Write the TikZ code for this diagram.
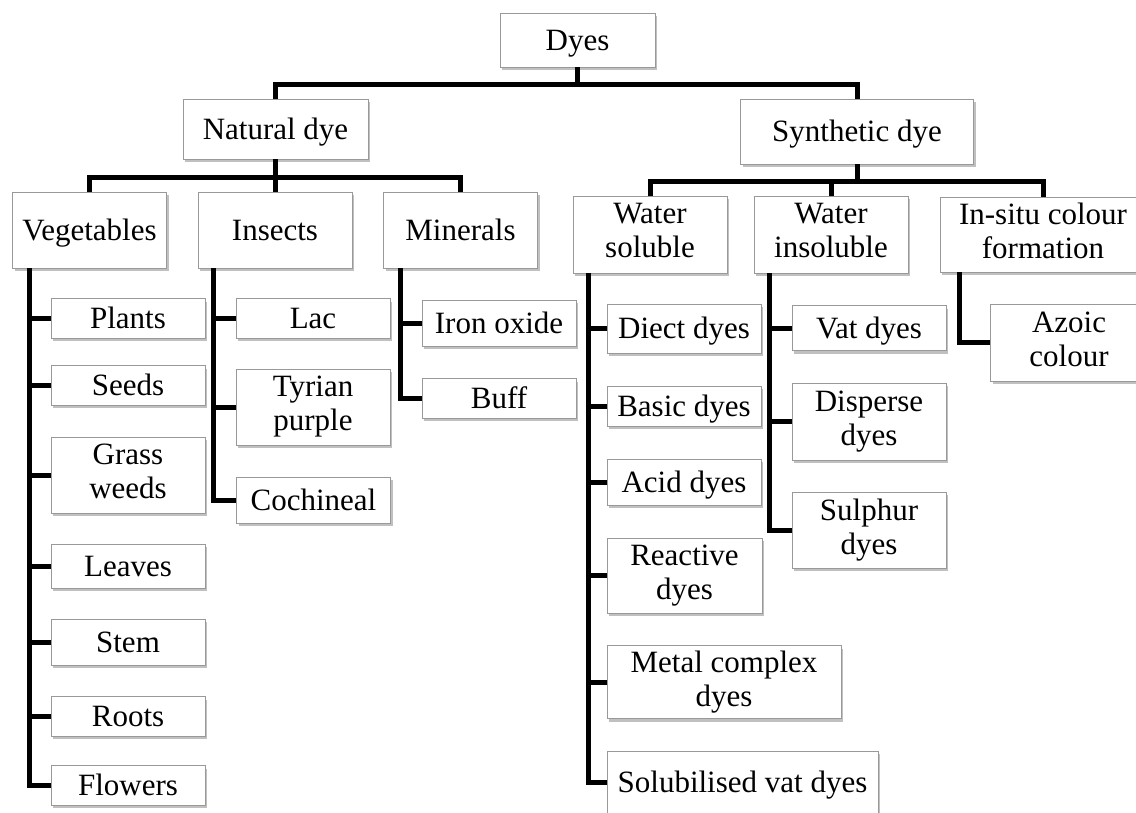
\documentclass[tikz,border=0pt]{standalone}
\usepackage{fontspec}
\setmainfont{Liberation Serif}
\usetikzlibrary{shadows}
\newcommand{\dyestrut}{\rule[-7.5pt]{0pt}{35.5pt}}

\begin{document}
\begin{tikzpicture}[x=1pt, y=-1pt,
    box/.style={draw=black!40, fill=white, line width=0.8pt, align=center,
        inner sep=2pt, font=\fontsize{31}{34}\selectfont, minimum width=154pt,
        execute at begin node=\dyestrut, execute at end node=\dyestrut,
        drop shadow={shadow xshift=2pt, shadow yshift=-3pt, fill=black!55, opacity=0.45}},
    link/.style={line width=5pt, line join=miter}]

    \useasboundingbox (0,0) rectangle (1136,812);

    \node[box, minimum width=155pt, minimum height=54pt] (dyes) at (577.5,40) {Dyes};
    \node[box, minimum width=185pt, minimum height=60pt] (natural) at (275.5,129) {Natural dye};
    \node[box, minimum width=233pt, minimum height=65pt] (synthetic) at (857,131.5) {Synthetic dye};

    \node[box, minimum height=76pt] (veg) at (89.5,230) {Vegetables};
    \node[box, minimum height=76pt] (insects) at (275,230) {Insects};
    \node[box, minimum height=76pt] (minerals) at (460.5,230) {Minerals};
    \node[box, minimum height=77pt] (wsol) at (650,234.5) {Water\\soluble};
    \node[box, minimum height=77pt] (winsol) at (831,234.5) {Water\\insoluble};
    \node[box, minimum width=206pt, minimum height=75pt] (insitu) at (1043,234.5) {In-situ colour\\formation};

    \node[box, minimum height=35pt] (plants) at (128,318.5) {Plants};
    \node[box, minimum height=35pt] (seeds) at (128,385.5) {Seeds};
    \node[box, minimum height=76pt] (grass) at (128,475) {Grass\\weeds};
    \node[box, minimum height=44pt] (leaves) at (128,566) {Leaves};
    \node[box, minimum height=46pt] (stem) at (128,642) {Stem};
    \node[box, minimum height=39pt] (roots) at (128,716.5) {Roots};
    \node[box, minimum height=33pt] (flowers) at (128,785.5) {Flowers};

    \node[box, minimum height=35pt] (lac) at (313,318.5) {Lac};
    \node[box, minimum height=76pt] (tyrian) at (313,407) {Tyrian\\purple};
    \node[box, minimum height=46pt] (cochineal) at (313.5,500) {Cochineal};

    \node[box, minimum height=46pt] (iron) at (499,323) {Iron oxide};
    \node[box, minimum height=39pt] (buff) at (499,398.5) {Buff};

    \node[box, minimum height=49pt] (direct) at (684,328.5) {Diect dyes};
    \node[box, minimum height=40pt] (basic) at (684,406) {Basic dyes};
    \node[box, minimum height=46pt] (acid) at (684,482) {Acid dyes};
    \node[box, minimum width=155pt, minimum height=75pt] (reactive) at (684.5,575.5) {Reactive\\dyes};
    \node[box, minimum width=234pt, minimum height=73pt] (metal) at (724,682) {Metal complex\\dyes};
    \node[box, minimum width=271pt, minimum height=62pt] (solvat) at (742.5,782) {Solubilised vat dyes};

    \node[box, minimum height=45pt] (vat) at (869,328) {Vat dyes};
    \node[box, minimum height=77pt] (disperse) at (869,421.5) {Disperse\\dyes};
    \node[box, minimum height=76pt] (sulphur) at (869,530) {Sulphur\\dyes};

    \node[box, minimum width=157pt, minimum height=77pt] (azoic) at (1069,342.5) {Azoic\\colour};

    \draw[link] (dyes.south) -- ++(0,17) -| (natural.north);
    \draw[link] (dyes.south) -- ++(0,17) -| (synthetic.north);
    \foreach \n in {veg,insects,minerals}
        \draw[link] (natural.south) -- ++(0,18) -| (\n.north);
    \foreach \n in {wsol,winsol,insitu}
        \draw[link] (synthetic.south) -- ++(0,17) -| (\n.north);

    \foreach \n in {plants,seeds,grass,leaves,stem,roots,flowers}
        \draw[link] ([xshift=17pt]veg.south west) |- (\n.west);
    \foreach \n in {lac,tyrian,cochineal}
        \draw[link] ([xshift=16pt]insects.south west) |- (\n.west);
    \foreach \n in {iron,buff}
        \draw[link] ([xshift=17pt]minerals.south west) |- (\n.west);
    \foreach \n in {direct,basic,acid,reactive,metal,solvat}
        \draw[link] ([xshift=16pt]wsol.south west) |- (\n.west);
    \foreach \n in {vat,disperse,sulphur}
        \draw[link] ([xshift=16pt]winsol.south west) |- (\n.west);
    \draw[link] ([xshift=20pt]insitu.south west) |- (azoic.west);

\end{tikzpicture}
\end{document}
